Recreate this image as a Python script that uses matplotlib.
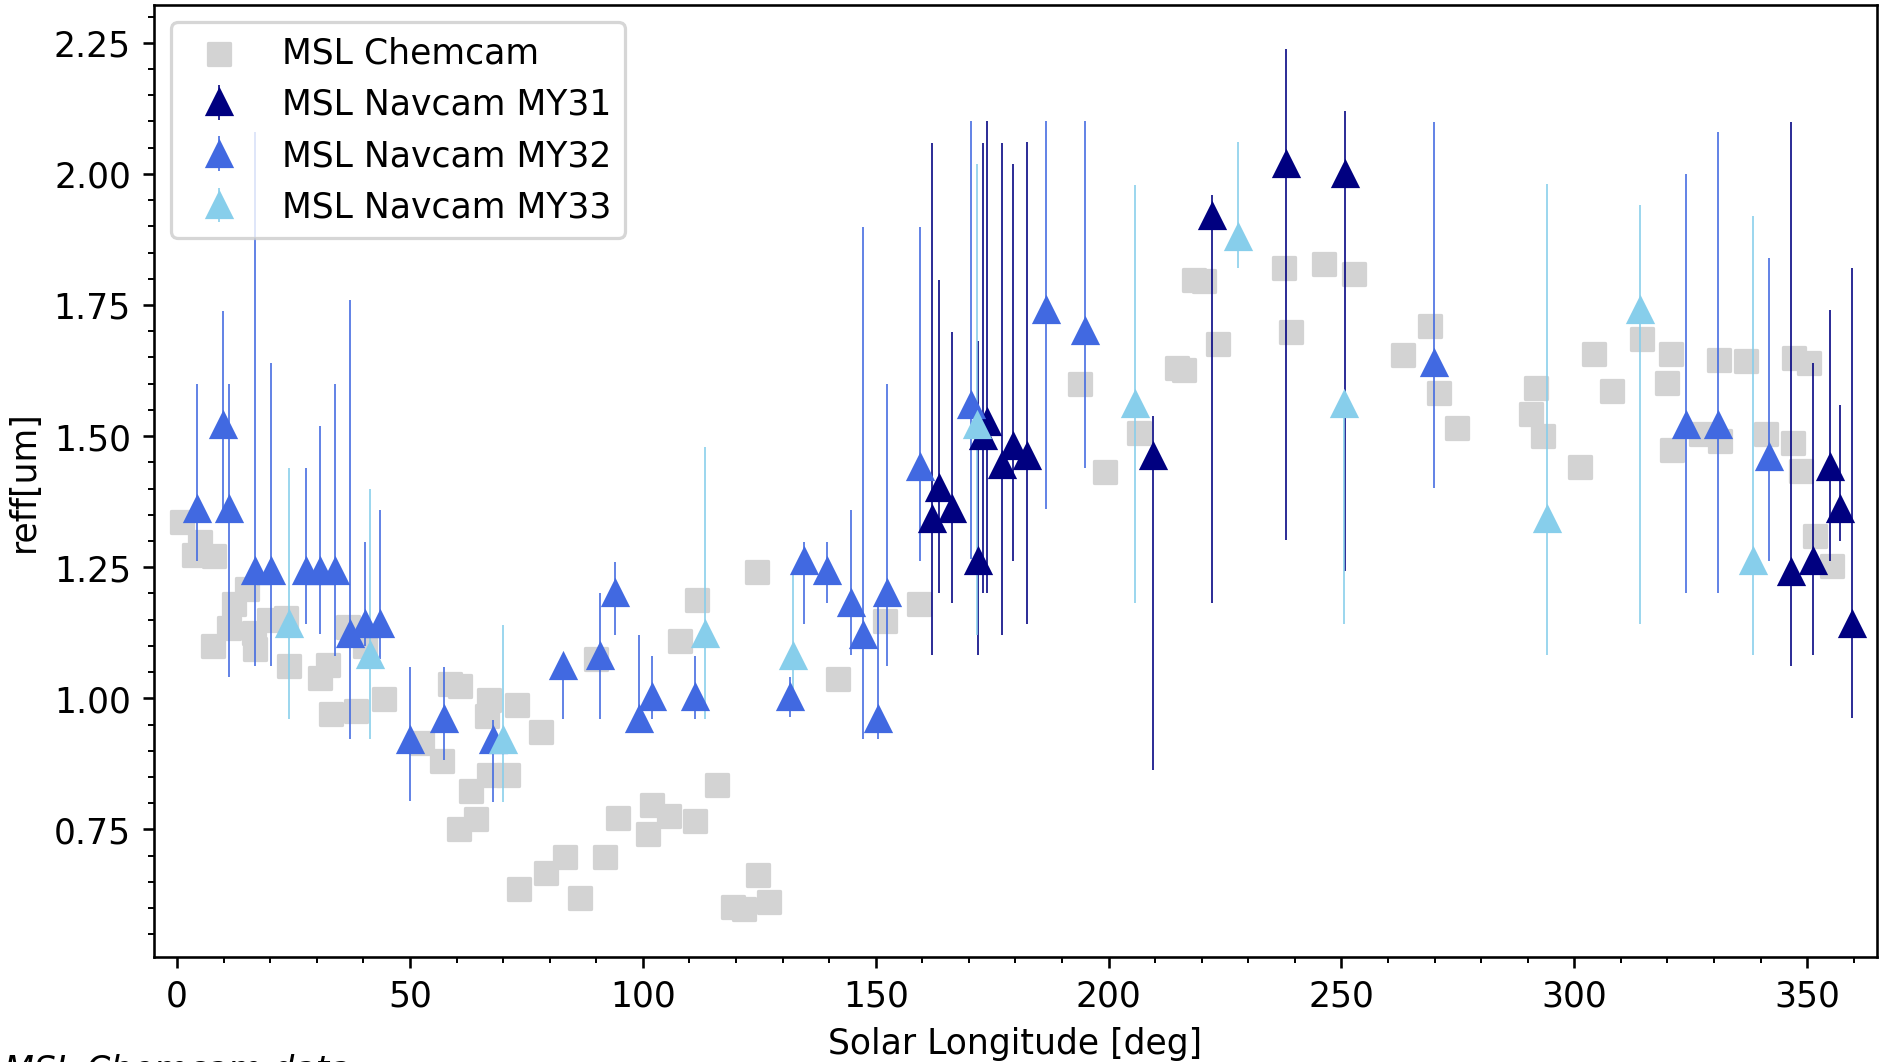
import numpy as np
import matplotlib.pyplot as plt

plt.rcParams['font.size'] = 10.7

# -----------------------------
# MSL Chemcam (Ls, reff)
# -----------------------------
chem_ls = [1.0, 4.9, 3.6, 8.0, 7.8, 11.2, 12.1, 15.0, 16.7, 16.4, 19.7, 23.3, 24.0,
           30.6, 32.4, 33.1, 36.6, 38.5, 40.3, 44.5, 52.6, 56.8, 58.5, 60.7, 60.5,
           63.1, 64.1, 66.6, 67.0, 67.0, 71.1, 72.9, 78.2, 73.5, 79.3, 83.3, 86.5,
           90.0, 91.9, 94.7, 101.1, 102.0, 105.7, 107.9, 111.3, 111.6, 116.0, 119.4,
           121.8, 124.5, 124.8, 127.1, 142.0, 151.9, 159.2, 193.8, 199.2, 206.6,
           214.7, 216.1, 218.4, 220.5, 223.5, 237.7, 239.1, 246.2, 252.8, 263.2,
           269.0, 270.9, 274.9, 290.7, 291.7, 293.2, 301.2, 304.3, 308.0, 314.5,
           319.9, 320.7, 320.9, 327.3, 331.1, 331.2, 336.8, 341.1, 347.0, 347.2,
           348.6, 350.4, 351.8, 355.3]
chem_reff = [1.337, 1.298, 1.274, 1.271, 1.099, 1.135, 1.179, 1.209, 1.094, 1.125, 1.150,
             1.154, 1.061, 1.039, 1.063, 0.970, 1.137, 0.976, 1.100, 0.998, 0.914, 0.880,
             1.028, 1.023, 0.750, 0.824, 0.770, 0.966, 0.997, 0.853, 0.853, 0.988, 0.936,
             0.636, 0.667, 0.698, 0.620, 1.076, 0.698, 0.771, 0.741, 0.797, 0.776, 1.110,
             0.766, 1.188, 0.835, 0.602, 0.599, 1.241, 0.663, 0.612, 1.037, 1.148, 1.180,
             1.599, 1.432, 1.506, 1.629, 1.626, 1.798, 1.796, 1.676, 1.820, 1.698, 1.828,
             1.810, 1.654, 1.710, 1.583, 1.516, 1.542, 1.591, 1.500, 1.442, 1.657, 1.586,
             1.686, 1.601, 1.657, 1.473, 1.505, 1.646, 1.491, 1.644, 1.504, 1.486, 1.649,
             1.433, 1.639, 1.310, 1.252]

# -----------------------------
# MSL Navcam MY31 (Ls, reff, low, high)
# -----------------------------
my31_ls = [162.0, 163.5, 166.4, 172.0, 173.1, 174.0, 177.1, 179.5, 182.4, 209.6, 222.2,
           238.2, 250.7, 346.5, 351.3, 355.0, 357.0, 359.6]
my31_reff = [1.342, 1.401, 1.362, 1.262, 1.500, 1.527, 1.445, 1.482, 1.462, 1.462, 1.919,
             2.019, 2.000, 1.241, 1.261, 1.441, 1.361, 1.141]
my31_lo = [1.082, 1.200, 1.181, 1.082, 1.200, 1.200, 1.121, 1.262, 1.142, 0.863, 1.182,
           1.302, 1.242, 1.061, 1.082, 1.261, 1.300, 0.962]
my31_hi = [2.059, 1.798, 1.699, 1.682, 2.059, 2.100, 2.059, 2.019, 2.060, 1.539, 1.959,
           2.238, 2.119, 2.099, 1.639, 1.740, 1.559, 1.820]

# -----------------------------
# MSL Navcam MY32
# -----------------------------
my32_ls = [4.3, 9.8, 11.2, 16.7, 20.1, 27.7, 30.6, 33.9, 37.1, 40.4, 43.5, 50.0, 57.2,
           67.9, 82.8, 90.9, 94.1, 99.1, 101.9, 111.2, 131.5, 134.5, 139.5, 144.6,
           147.2, 150.4, 152.5, 159.5, 170.5, 186.6, 195.0, 269.8, 323.9, 330.8, 341.9]
my32_reff = [1.362, 1.521, 1.362, 1.242, 1.242, 1.242, 1.242, 1.242, 1.122, 1.142, 1.142,
             0.920, 0.961, 0.921, 1.062, 1.081, 1.201, 0.961, 1.002, 1.002, 1.002, 1.262,
             1.242, 1.182, 1.121, 0.961, 1.201, 1.441, 1.560, 1.741, 1.700, 1.640, 1.521,
             1.521, 1.461]
my32_lo = [1.261, 1.360, 1.041, 1.061, 1.061, 1.142, 1.122, 1.081, 0.922, 1.100, 1.076,
           0.804, 0.882, 0.802, 0.961, 0.961, 1.120, 0.961, 0.961, 0.961, 0.964, 1.142,
           1.181, 1.082, 0.922, 0.922, 1.062, 1.262, 1.266, 1.362, 1.440, 1.401, 1.201,
           1.201, 1.261]
my32_hi = [1.600, 1.739, 1.600, 2.079, 1.640, 1.439, 1.519, 1.600, 1.759, 1.299, 1.360,
           1.060, 1.060, 0.959, 1.062, 1.200, 1.260, 1.120, 1.080, 1.080, 1.040, 1.299,
           1.299, 1.360, 1.898, 1.174, 1.599, 1.898, 2.100, 2.100, 2.100, 2.099, 1.999,
           2.079, 1.840]

# -----------------------------
# MSL Navcam MY33
# -----------------------------
my33_ls = [24.0, 41.4, 70.0, 113.3, 132.2, 171.8, 205.6, 227.8, 250.5, 294.1, 314.2, 338.3]
my33_reff = [1.142, 1.083, 0.921, 1.122, 1.080, 1.521, 1.562, 1.879, 1.561, 1.342, 1.741, 1.261]
my33_lo = [0.961, 0.922, 0.802, 0.961, 1.000, 1.121, 1.182, 1.820, 1.141, 1.082, 1.141, 1.082]
my33_hi = [1.439, 1.400, 1.139, 1.479, 1.236, 2.019, 1.979, 2.060, 1.580, 1.980, 1.940, 1.919]


def yerr(y, lo, hi):
    y, lo, hi = np.array(y), np.array(lo), np.array(hi)
    return [np.clip(y - lo, 0, None), np.clip(hi - y, 0, None)]


# -----------------------------
# Plot
# -----------------------------
fig = plt.figure(figsize=(1879.4 / 233, 1062.4 / 233), dpi=233)
ax = fig.add_axes([0.0817, 0.0989, 0.9170, 0.8960])

ax.scatter(chem_ls, chem_reff, marker='s', s=46, color='lightgray', label='MSL Chemcam')

series = [
    (my31_ls, my31_reff, my31_lo, my31_hi, 'navy', 'MSL Navcam MY31'),
    (my32_ls, my32_reff, my32_lo, my32_hi, 'royalblue', 'MSL Navcam MY32'),
    (my33_ls, my33_reff, my33_lo, my33_hi, 'skyblue', 'MSL Navcam MY33'),
]
for ls, reff, lo, hi, col, lab in series:
    ax.errorbar(ls, reff, yerr=yerr(reff, lo, hi), fmt='^', color=col, ms=7.6,
                elinewidth=0.5, capsize=0, label=lab)

ax.set_xlim(-5.07, 365.0)
ax.set_ylim(0.507, 2.322)
ax.minorticks_on()
ax.set_xlabel('Solar Longitude [deg]')
ax.set_ylabel('reff[um]')
ax.legend(loc='upper left')

# caption sits below the canvas edge, only its top shows (as in the original)
fig.text(0.002, -0.0175, 'MSL Chemcam data', style='italic', va='baseline')

plt.savefig('out.png', dpi=233)
